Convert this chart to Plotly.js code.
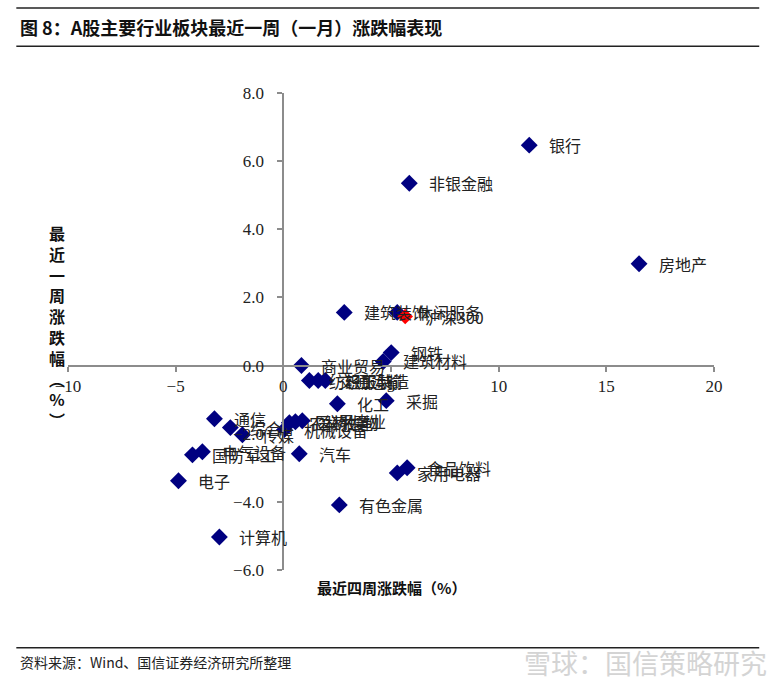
<!DOCTYPE html>
<html>
<head>
<meta charset="utf-8">
<script src="https://cdn.plot.ly/plotly-3.0.1.min.js"></script>
<style>
  body { margin: 0; background: #fff; }
  #chart { width: 773px; height: 681px; }
</style>
</head>
<body>
<div id="chart"></div>
<script>
// industries: last-4-week change (x) vs last-week change (y), in %
const industries = ['银行', '非银金融', '房地产', '建筑装饰', '休闲服务', '钢铁', '建筑材料',
  '商业贸易', '纺织服装', '交通运输', '轻工制造', '化工', '采掘', '通信', '综合', '传媒',
  '机械设备', '农林牧渔', '医药生物', '公用事业', '汽车', '国防军工', '电气设备', '电子',
  '家用电器', '食品饮料', '有色金属', '计算机'];
const monthChg = [11.42, 5.85, 16.52, 2.83, 5.29, 5.01, 4.64,
  0.84, 1.21, 1.62, 1.95, 2.51, 4.78, -3.20, -2.46, -1.90,
  0.05, 0.28, 0.56, 0.88, 0.74, -4.22, -3.76, -4.87,
  5.29, 5.75, 2.60, -2.97];
const weekChg = [6.47, 5.35, 2.99, 1.56, 1.56, 0.38, 0.12,
  0.0, -0.44, -0.44, -0.44, -1.12, -1.03, -1.56, -1.82, -2.03,
  -1.88, -1.68, -1.65, -1.62, -2.59, -2.62, -2.53, -3.38,
  -3.15, -3.00, -4.09, -5.03];

// benchmark
const indexName = ['沪深300'];
const indexMonth = [5.66];
const indexWeek = [1.44];

const xRange = [-10, 20];
const yRange = [-6, 8];
const xTicks = [-10, -5, 0, 5, 10, 15, 20];
const yTicks = [-6, -4, -2, 0, 2, 4, 6, 8];

const cjk = '"Noto Sans CJK SC", "Noto Sans", sans-serif';
const serif = '"Liberation Serif", "DejaVu Serif", serif';

function pointLabels(names, xs, ys) {
  return names.map((t, i) => ({
    x: xs[i], y: ys[i], xref: 'x', yref: 'y',
    text: t, showarrow: false,
    xanchor: 'left', yanchor: 'middle', xshift: 18,
    font: { family: cjk, size: 16, color: '#222' }
  }));
}

const yTitle = ['最', '近', '一', '周', '涨', '跌', '幅', '︵', '%', '︶'].join('<br>');

Plotly.newPlot('chart', [
  {
    x: monthChg, y: weekChg, text: industries,
    type: 'scatter', mode: 'markers',
    marker: { symbol: 'diamond', size: 13, color: '#000080' },
    hoverinfo: 'text+x+y'
  },
  {
    x: indexMonth, y: indexWeek, text: indexName,
    type: 'scatter', mode: 'markers',
    marker: { symbol: 'diamond', size: 12, color: '#ff0000' },
    hoverinfo: 'text+x+y'
  }
], {
  width: 773,
  height: 681,
  showlegend: false,
  paper_bgcolor: '#fff',
  plot_bgcolor: '#fff',
  margin: { l: 68, r: 59, t: 93, b: 111 },
  xaxis: {
    range: xRange,
    tickmode: 'array',
    tickvals: xTicks,
    anchor: 'free',
    position: (0 - yRange[0]) / (yRange[1] - yRange[0]),
    showline: true,
    linecolor: '#8c8c8c',
    linewidth: 2,
    ticks: 'outside',
    ticklen: 5,
    tickcolor: '#8c8c8c',
    tickwidth: 2,
    showgrid: false,
    zeroline: false,
    tickfont: { family: serif, size: 17, color: '#222' }
  },
  yaxis: {
    range: yRange,
    tickmode: 'array',
    tickvals: yTicks,
    tickformat: '.1f',
    anchor: 'free',
    position: (0 - xRange[0]) / (xRange[1] - xRange[0]),
    showline: true,
    linecolor: '#8c8c8c',
    linewidth: 2,
    ticks: 'outside',
    ticklen: 5,
    tickcolor: '#8c8c8c',
    tickwidth: 2,
    ticklabelstandoff: 10,
    showgrid: false,
    zeroline: false,
    tickfont: { family: serif, size: 17, color: '#222' }
  },
  shapes: [
    { type: 'line', xref: 'paper', yref: 'paper', x0: -0.08, x1: 1.07, y0: 1.178, y1: 1.178,
      line: { color: '#222', width: 1.5 } },
    { type: 'line', xref: 'paper', yref: 'paper', x0: -0.08, x1: 1.07, y0: 1.098, y1: 1.098,
      line: { color: '#222', width: 1.5 } },
    { type: 'line', xref: 'paper', yref: 'paper', x0: -0.08, x1: 1.07, y0: -0.163, y1: -0.163,
      line: { color: '#222', width: 1.5 } }
  ],
  annotations: [
    ...pointLabels(industries, monthChg, weekChg),
    ...pointLabels(indexName, indexMonth, indexWeek),
    {
      xref: 'paper', yref: 'paper', x: -0.077, y: 1.138,
      xanchor: 'left', yanchor: 'middle', showarrow: false,
      text: '<b>图 8：A股主要行业板块最近一周（一月）涨跌幅表现</b>',
      font: { family: cjk, size: 18, color: '#111' }
    },
    {
      xref: 'paper', yref: 'paper', x: 0.5, y: -0.036,
      xanchor: 'center', yanchor: 'middle', showarrow: false,
      text: '<b>最近四周涨跌幅（%）</b>',
      font: { family: cjk, size: 15, color: '#111' }
    },
    {
      xref: 'paper', yref: 'paper', x: -0.017, y: 0.51,
      xanchor: 'center', yanchor: 'middle', showarrow: false,
      text: '<b>' + yTitle + '</b>',
      font: { family: cjk, size: 16, color: '#111' }
    },
    {
      xref: 'paper', yref: 'paper', x: -0.077, y: -0.193,
      xanchor: 'left', yanchor: 'middle', showarrow: false,
      text: '资料来源：Wind、国信证券经济研究所整理',
      font: { family: cjk, size: 14, color: '#222' }
    },
    {
      xref: 'paper', yref: 'paper', x: 1.085, y: -0.193,
      xanchor: 'right', yanchor: 'middle', showarrow: false,
      text: '雪球：国信策略研究',
      font: { family: cjk, size: 27, color: '#d4d4d4' }
    }
  ]
}, { displayModeBar: false });
</script>
</body>
</html>
